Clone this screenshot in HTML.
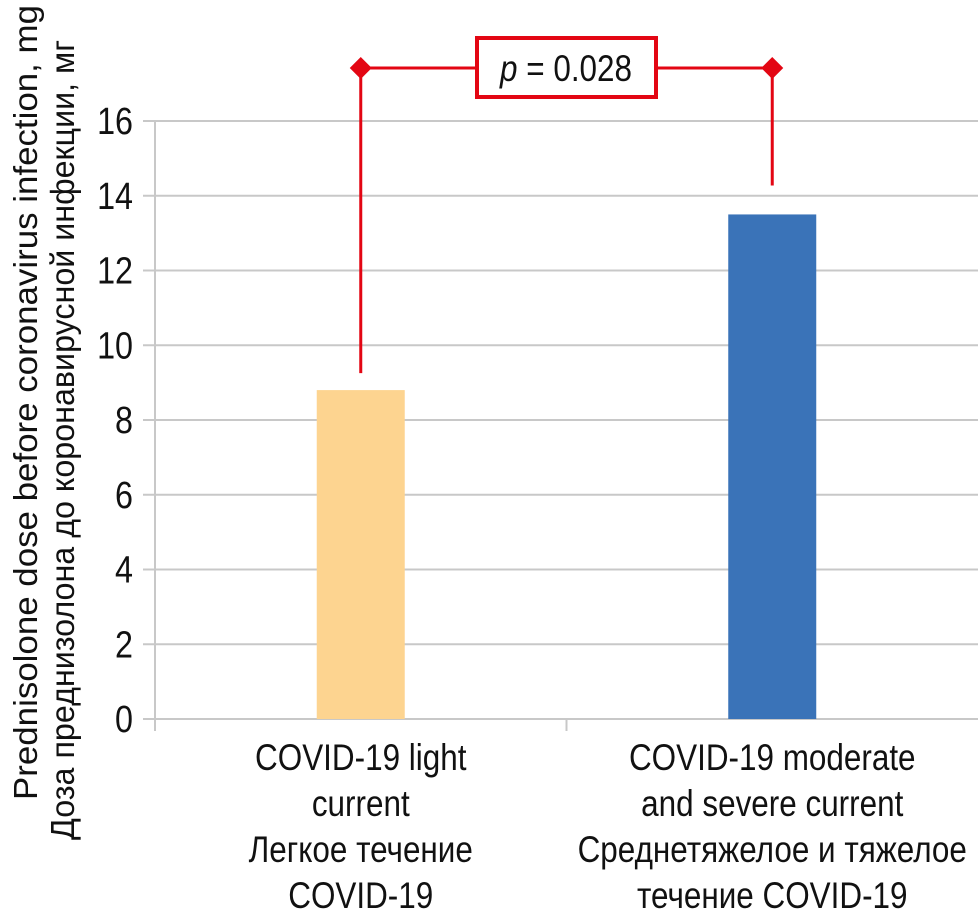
<!DOCTYPE html>
<html><head><meta charset="utf-8"><style>
body{margin:0;background:#fff}
svg{display:block;font-family:"Liberation Sans Narrow","Liberation Sans",sans-serif}
</style></head><body>
<svg id="chart" width="978" height="918" viewBox="0 0 978 918" xmlns="http://www.w3.org/2000/svg">
<g id="grid"></g>
<g id="bars"></g>
<g id="yticks"></g>
<g id="xlabels"></g>
<g font-size="33" fill="#111">
<text transform="translate(37,800) rotate(-90)" textLength="795" lengthAdjust="spacingAndGlyphs">Prednisolone dose before coronavirus infection, mg</text>
<text transform="translate(74,840) rotate(-90)" textLength="800" lengthAdjust="spacingAndGlyphs">Доза преднизолона до коронавирусной инфекции, мг</text>
</g>
<g id="sig"></g>
</svg>
<script>
const categories=[["COVID-19 light","current","Легкое течение","COVID-19"],["COVID-19 moderate","and severe current","Среднетяжелое и тяжелое","течение COVID-19"]];
const values=[8.8,13.5];
const colors=["#fdd490","#3a73b8"];
const yTicks=[0,2,4,6,8,10,12,14,16];
const pLabel="= 0.028";
const NS="http://www.w3.org/2000/svg";
const y0=719,yTop=121,yMax=16,xL=155,xR=978;
const y=v=>y0-(y0-yTop)*v/yMax;
const catW=(xR-xL)/categories.length;
const cx=i=>xL+catW*(i+0.5);
function mk(t,a,p){const e=document.createElementNS(NS,t);for(const k in a)e.setAttribute(k,a[k]);p.appendChild(e);return e;}
const grid=document.getElementById('grid');
yTicks.forEach(t=>{const l=mk('line',{x1:143,x2:xR,y1:y(t),y2:y(t),stroke:'#c8c8c8','stroke-width':2},grid);


const tx=mk('text',{transform:`translate(133,${y(t)+13}) scale(0.85,1)`,'text-anchor':'end','font-size':38,fill:'#111'},document.getElementById('yticks'));


tx.textContent=t;});
const ax=mk('line',{x1:xL,x2:xL,y1:yTop,y2:y0+12,stroke:'#c8c8c8','stroke-width':2},grid);


for(let i=0;i<categories.length;i++){const tk=mk('line',{x1:xL+catW*i,x2:xL+catW*i,y1:y0,y2:y0+12,stroke:'#c8c8c8','stroke-width':2},grid);

}
const bw=88;
values.forEach((v,i)=>{const r=mk('rect',{x:cx(i)-bw/2,y:y(v),width:bw,height:y0-y(v),fill:colors[i]},document.getElementById('bars'));


categories[i].forEach((s,j)=>{const t=mk('text',{transform:`translate(${cx(i)},${770+j*46}) scale(0.85,1)`,'text-anchor':'middle','font-size':37,fill:'#111'},document.getElementById('xlabels'));


t.textContent=s;});});
const sg=document.getElementById('sig');const red='#e30613';const by=68;
const x1=cx(0),x2=cx(1);
const p=mk('path',{d:`M${x1},${y(values[0])-17}V${by}H${x2}V${y(values[1])-29}`,fill:'none',stroke:red,'stroke-width':3},sg);


[x1,x2].forEach(x=>{const d=mk('path',{d:`M${x-11},${by}L${x},${by-11}L${x+11},${by}L${x},${by+11}Z`,fill:red},sg);

});
const bx=mk('rect',{x:477,y:38,width:179,height:59,fill:'#fff',stroke:red,'stroke-width':4},sg);


const pt=mk('text',{transform:'translate(566,81) scale(0.85,1)','text-anchor':'middle','font-size':37,fill:'#111'},sg);


const it=mk('tspan',{'font-style':'italic'},pt);it.textContent='p ';
const rest=mk('tspan',{},pt);rest.textContent=pLabel;
</script>
</body></html>
